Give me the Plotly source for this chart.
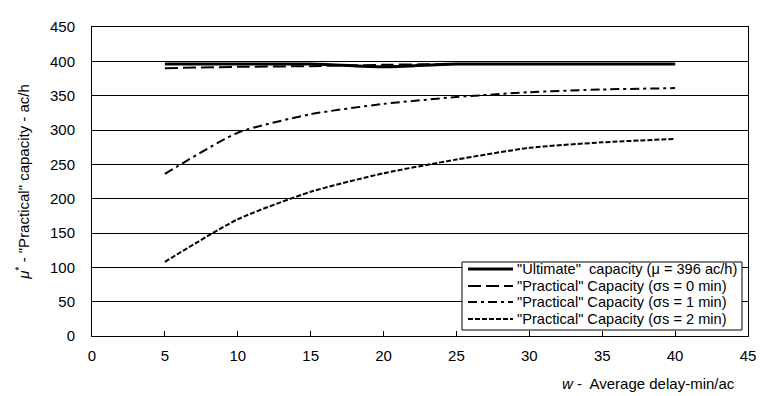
import plotly.graph_objects as go

delay = [5, 10, 15, 20, 25, 30, 35, 40]
ultimate = [396, 396, 396, 392, 396, 396, 396, 396]
practical_s0 = [390, 392, 393, 395, 396, 396, 396, 396]
practical_s1 = [236, 296, 323, 338, 348, 355, 359, 361]
practical_s2 = [108, 170, 210, 237, 257, 274, 282, 287]

x_ticks = [0, 5, 10, 15, 20, 25, 30, 35, 40, 45]
y_ticks = [0, 50, 100, 150, 200, 250, 300, 350, 400, 450]

series_names = [
    '"Ultimate"  capacity (μ = 396 ac/h)',
    '"Practical" Capacity (σs = 0 min)',
    '"Practical" Capacity (σs = 1 min)',
    '"Practical" Capacity (σs = 2 min)',
]
series_values = [ultimate, practical_s0, practical_s1, practical_s2]
series_styles = [
    dict(color="black", width=3, dash="solid", shape="spline", smoothing=0.6),
    dict(color="black", width=2, dash="13px,5px", shape="spline", smoothing=0.6),
    dict(color="black", width=2, dash="9px,4px,3px,4px", shape="spline", smoothing=0.6),
    dict(color="black", width=2, dash="5px,2px", shape="spline", smoothing=0.6),
]

FONT = "Liberation Sans, Arial, sans-serif"
W, H = 775, 396
L, R, T, B = 92, 27, 27, 60          # plot area: x 92..748, y 27..336
PW, PH = W - L - R, H - T - B


def px(xpix):
    return (xpix - L) / PW


def py(ypix):
    return (H - B - ypix) / PH


fig = go.Figure()
for name, vals, style in zip(series_names, series_values, series_styles):
    fig.add_trace(go.Scatter(x=delay, y=vals, mode="lines",
                             name=name, line=style, showlegend=False,
                             hoverinfo="skip"))

fig.update_layout(
    width=W, height=H,
    margin=dict(l=L, r=R, t=T, b=B, autoexpand=False),
    paper_bgcolor="white", plot_bgcolor="white",
    font=dict(family=FONT, size=15, color="black"),
    showlegend=False,
    xaxis=dict(
        range=[0, 45], tickmode="array", tickvals=x_ticks,
        ticktext=[str(v) for v in x_ticks],
        showgrid=False, zeroline=False, automargin=False,
        showline=True, linecolor="black", linewidth=1, mirror=True,
        ticks="inside", ticklen=5, tickcolor="black",
        ticklabelstandoff=6,
        tickfont=dict(family=FONT, size=15, color="black"),
    ),
    yaxis=dict(
        range=[0, 450], tickmode="array", tickvals=y_ticks,
        ticktext=[str(v) for v in y_ticks],
        showgrid=True, gridcolor="black", gridwidth=1,
        zeroline=False, automargin=False,
        showline=True, linecolor="black", linewidth=1, mirror=True,
        ticks="", ticklabelstandoff=13,
        tickfont=dict(family=FONT, size=15, color="black"),
        title=dict(text='<i>μ</i><sup>*</sup> - "Practical" capacity - ac/h',
                   font=dict(family=FONT, size=15, color="black"), standoff=16),
    ),
)

# custom legend box
fig.add_shape(type="rect", xref="paper", yref="paper",
              x0=px(462), x1=px(742), y0=py(330), y1=py(262),
              line=dict(color="black", width=1), fillcolor="white", layer="above")
row_y = [269, 286, 302, 319]
for name, style, ry in zip(series_names, series_styles, row_y):
    fig.add_shape(type="line", xref="paper", yref="paper",
                  x0=px(468), x1=px(513), y0=py(ry), y1=py(ry),
                  line=dict(color=style["color"], width=style["width"], dash=style["dash"]),
                  layer="above")
    fig.add_annotation(xref="paper", yref="paper", x=px(515), y=py(ry),
                       xanchor="left", yanchor="middle", showarrow=False,
                       text=name, font=dict(family=FONT, size=14.6, color="black"))

fig.add_annotation(
    xref="paper", yref="paper", x=px(737), y=py(383),
    xanchor="right", yanchor="middle", showarrow=False,
    text="<i>w</i> -  Average delay-min/ac",
    font=dict(family=FONT, size=15, color="black"),
)

fig.write_html(
    "out.html",
    config={"displayModeBar": False},
    post_script="document.body.style.margin='0px';document.body.style.padding='0px';",
)
